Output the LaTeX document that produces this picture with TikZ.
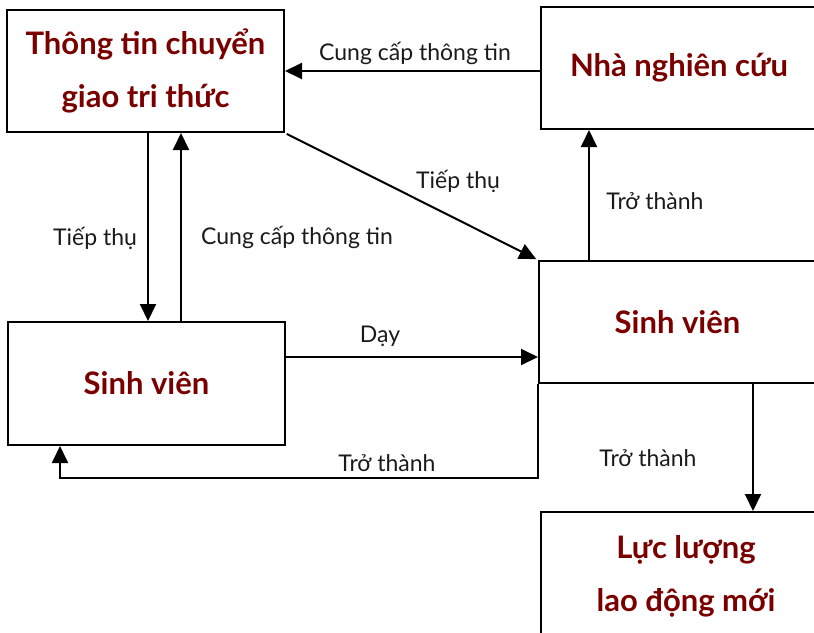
\documentclass[tikz,border=0pt]{standalone}
\usepackage{fontspec}
\setmainfont{Lato}
\usetikzlibrary{arrows.meta}
\definecolor{dred}{HTML}{7A0000}
\definecolor{lbl}{HTML}{1A1A1A}
\begin{document}
\begin{tikzpicture}[x=1pt,y=-1pt,
  box/.style={draw, line width=2pt, rectangle, inner sep=0pt, align=center,
    font=\fontsize{31}{53}\selectfont\bfseries, text=dred},
  arr/.style={line width=2pt, -{Triangle[length=17pt,width=16pt]}},
  lab/.style={font=\fontsize{23}{27}\selectfont, text=lbl, inner sep=0pt}]
\useasboundingbox (0,0) rectangle (814,632);
\node[box, minimum width=277pt, minimum height=122pt] (A) at (145.5,71) {Thông tin chuyển\\giao tri thức};
\node[box, minimum width=276pt, minimum height=122pt] (B) at (679,68) {Nhà nghiên cứu};
\node[box, minimum width=277pt, minimum height=122pt] (C) at (677.5,322) {Sinh viên};
\node[box, minimum width=277pt, minimum height=123pt] (D) at (146.5,383.5) {Sinh viên};
\node[box, minimum width=290pt, minimum height=128pt] (E) at (686,576) {Lực lượng\\lao động mới};
\coordinate (xa) at (148,0);
\coordinate (xb) at (181,0);
\coordinate (xc) at (589,0);
\coordinate (xd) at (753,0);
\coordinate (xe) at (60,0);
\coordinate (ya) at (0,71);
\coordinate (yd) at (0,357);
\coordinate (yb) at (0,478);
\draw[arr] (B.west |- ya) -- (A.east |- ya);
\draw[arr] (A.south -| xa) -- (D.north -| xa);
\draw[arr] (D.north -| xb) -- (A.south -| xb);
\draw[arr, shorten <=2pt, shorten >=2pt] (A.south east) -- (C.north west);
\draw[arr] (D.east |- yd) -- (C.west |- yd);
\draw[arr] (C.north -| xc) -- (B.south -| xc);
\draw[arr] (C.south west) -- (C.south west |- yb) -| (D.south -| xe);
\draw[arr] (C.south -| xd) -- (E.north -| xd);
\node[lab] (l1) at (415,53) {Cung cấp thông tin};
\node[lab] (l2) at (95,238) {Tiếp thụ};
\node[lab] (l3) at (297,237) {Cung cấp thông tin};
\node[lab] (l4) at (458,181) {Tiếp thụ};
\node[lab] (l5) at (380,336) {Dạy};
\node[lab] (l6) at (655,201) {Trở thành};
\node[lab] (l7) at (387,463) {Trở thành};
\node[lab] (l8) at (648,458) {Trở thành};
\end{tikzpicture}
\end{document}
